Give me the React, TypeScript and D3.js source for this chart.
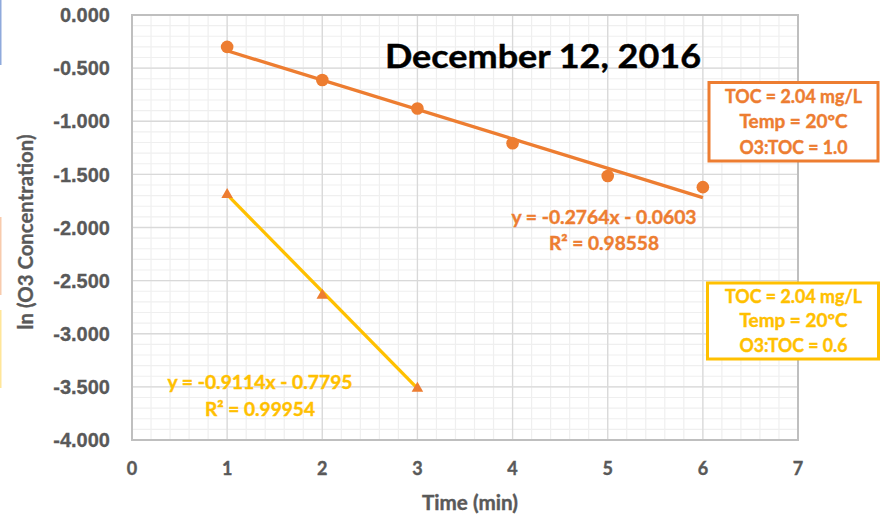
import React, { useEffect, useRef } from "react";
import * as d3 from "d3";

// O3:TOC = 1.0 series (circles)
const timeHigh = [1, 2, 3, 4, 5, 6];
const lnHigh = [-0.3, -0.612, -0.88, -1.207, -1.515, -1.62];
// O3:TOC = 0.6 series (triangles)
const timeLow = [1, 2, 3];
const lnLow = [-1.69, -2.64, -3.515];

// linear trendlines from the picture
const fitHigh = { slope: -0.2764, intercept: -0.0603 };
const fitLow = { slope: -0.9114, intercept: -0.7795 };

const xTicks = [0, 1, 2, 3, 4, 5, 6, 7];
const yTicks = [0, -0.5, -1, -1.5, -2, -2.5, -3, -3.5, -4];

const title = "December 12, 2016";
const eqHigh = ["y = -0.2764x - 0.0603", "R² = 0.98558"];
const eqLow = ["y = -0.9114x - 0.7795", "R² = 0.99954"];
const boxHigh = ["TOC = 2.04 mg/L", "Temp = 20ºC", "O3:TOC = 1.0"];
const boxLow = ["TOC = 2.04 mg/L", "Temp = 20ºC", "O3:TOC = 0.6"];

const ORANGE = "#ED7D31";
const YELLOW = "#FFC000";
const GRAY = "#595959";
const SANS = "Lato, 'Open Sans', sans-serif";

const W = 881;
const H = 516;
const margin = { top: 15, right: 83, bottom: 76, left: 132 };

const Chart: React.FC = () => {
  const svgRef = useRef<SVGSVGElement>(null);

  useEffect(() => {
    if (!svgRef.current) return;
    const root = d3.select(svgRef.current);
    root.selectAll("*").remove();

    const innerW = W - margin.left - margin.right;
    const innerH = H - margin.top - margin.bottom;

    const x = d3.scaleLinear().domain([0, 7]).range([0, innerW]);
    const y = d3.scaleLinear().domain([-4, 0]).range([innerH, 0]);

    root.append("rect").attr("width", W).attr("height", H).attr("fill", "#fff");

    // slivers of neighbouring shapes at the left edge
    root.append("rect").attr("x", 0).attr("y", 0).attr("width", 1.5).attr("height", 65).attr("fill", "#8FAADC");
    root.append("rect").attr("x", 0).attr("y", 217).attr("width", 1.5).attr("height", 78).attr("fill", "#F8CBAD");
    root.append("rect").attr("x", 0).attr("y", 310).attr("width", 1.5).attr("height", 78).attr("fill", "#FFE699");

    const g = root.append("g").attr("transform", `translate(${margin.left},${margin.top})`);

    // minor grid
    const minorX = d3.range(0, 7.001, 0.2);
    const minorY = d3.range(-4, 0.001, 0.1);
    g.append("g")
      .selectAll("line")
      .data(minorX)
      .enter()
      .append("line")
      .attr("x1", (d) => x(d))
      .attr("x2", (d) => x(d))
      .attr("y1", 0)
      .attr("y2", innerH)
      .attr("stroke", "#EFEFEF")
      .attr("stroke-width", 1.2);
    g.append("g")
      .selectAll("line")
      .data(minorY)
      .enter()
      .append("line")
      .attr("x1", 0)
      .attr("x2", innerW)
      .attr("y1", (d) => y(d))
      .attr("y2", (d) => y(d))
      .attr("stroke", "#EFEFEF")
      .attr("stroke-width", 1.2);

    // major grid
    g.append("g")
      .selectAll("line")
      .data(xTicks)
      .enter()
      .append("line")
      .attr("x1", (d) => x(d))
      .attr("x2", (d) => x(d))
      .attr("y1", 0)
      .attr("y2", innerH)
      .attr("stroke", "#D9D9D9")
      .attr("stroke-width", 1.3);
    g.append("g")
      .selectAll("line")
      .data(yTicks)
      .enter()
      .append("line")
      .attr("x1", 0)
      .attr("x2", innerW)
      .attr("y1", (d) => y(d))
      .attr("y2", (d) => y(d))
      .attr("stroke", "#D9D9D9")
      .attr("stroke-width", 1.3);

    // plot frame
    g.append("rect")
      .attr("width", innerW)
      .attr("height", innerH)
      .attr("fill", "none")
      .attr("stroke", "#BFBFBF")
      .attr("stroke-width", 2);

    // y tick labels
    g.append("g")
      .selectAll("text")
      .data(yTicks)
      .enter()
      .append("text")
      .attr("x", -22)
      .attr("y", (d) => y(d))
      .attr("dy", "0.36em")
      .attr("text-anchor", "end")
      .attr("font-family", "'Liberation Sans', Arial, sans-serif")
      .attr("font-weight", "bold")
      .attr("font-size", 20)
      .attr("fill", GRAY)
      .attr("stroke", GRAY)
      .attr("stroke-width", 0.3)
      .text((d) => d3.format(".3f")(d).replace("−", "-"));

    // x tick labels
    g.append("g")
      .selectAll("text")
      .data(xTicks)
      .enter()
      .append("text")
      .attr("x", (d) => x(d))
      .attr("y", innerH + 35)
      .attr("text-anchor", "middle")
      .attr("font-family", SANS)
      .attr("font-weight", "bold")
      .attr("font-size", 18)
      .attr("fill", GRAY)
      .attr("stroke", GRAY)
      .attr("stroke-width", 0.4)
      .text((d) => d);

    // axis titles
    root.append("text")
      .attr("x", 470)
      .attr("y", 510)
      .attr("text-anchor", "middle")
      .attr("font-family", SANS)
      .attr("font-weight", "bold")
      .attr("font-size", 21)
      .attr("textLength", 96)
      .attr("lengthAdjust", "spacingAndGlyphs")
      .attr("fill", GRAY)
      .attr("stroke", GRAY)
      .attr("stroke-width", 0.4)
      .text("Time (min)");
    root.append("text")
      .attr("transform", "rotate(-90)")
      .attr("x", -232)
      .attr("y", 33)
      .attr("text-anchor", "middle")
      .attr("font-family", SANS)
      .attr("font-weight", "bold")
      .attr("font-size", 20)
      .attr("textLength", 195)
      .attr("lengthAdjust", "spacingAndGlyphs")
      .attr("fill", GRAY)
      .attr("stroke", GRAY)
      .attr("stroke-width", 0.3)
      .text("ln (O3 Concentration)");

    // trendlines
    const drawFit = (fit: { slope: number; intercept: number }, xs: number[], color: string) => {
      const ext = d3.extent(xs) as [number, number];
      g.append("line")
        .attr("x1", x(ext[0]))
        .attr("y1", y(fit.slope * ext[0] + fit.intercept))
        .attr("x2", x(ext[1]))
        .attr("y2", y(fit.slope * ext[1] + fit.intercept))
        .attr("stroke", color)
        .attr("stroke-width", 3.3);
    };
    drawFit(fitHigh, timeHigh, ORANGE);
    drawFit(fitLow, timeLow, YELLOW);

    // markers
    g.append("g")
      .selectAll("circle")
      .data(timeHigh)
      .enter()
      .append("circle")
      .attr("cx", (d) => x(d))
      .attr("cy", (_, i) => y(lnHigh[i]))
      .attr("r", 6.3)
      .attr("fill", ORANGE);

    const tri = d3.symbol().type(d3.symbolTriangle).size(58);
    g.append("g")
      .selectAll("path")
      .data(timeLow)
      .enter()
      .append("path")
      .attr("d", tri)
      .attr("transform", (d, i) => `translate(${x(d)},${y(lnLow[i])})`)
      .attr("fill", ORANGE);

    // title
    root.append("text")
      .attr("x", 543)
      .attr("y", 68)
      .attr("text-anchor", "middle")
      .attr("font-family", SANS)
      .attr("font-weight", "bold")
      .attr("font-size", 32)
      .attr("textLength", 316)
      .attr("lengthAdjust", "spacingAndGlyphs")
      .attr("fill", "#000")
      .attr("stroke", "#000")
      .attr("stroke-width", 0.4)
      .text(title);

    // equations and box text
    const drawLines = (lines: string[], cx: number, y0: number, step: number, color: string, size: number, lens: number[]) => {
      lines.forEach((t, i) => {
        root.append("text")
          .attr("x", cx)
          .attr("y", y0 + i * step)
          .attr("text-anchor", "middle")
          .attr("font-family", SANS)
          .attr("font-weight", "bold")
          .attr("font-size", size)
          .attr("textLength", lens[i])
          .attr("lengthAdjust", "spacingAndGlyphs")
          .attr("fill", color)
          .attr("stroke", color)
          .attr("stroke-width", 0.4)
          .text(t);
      });
    };
    drawLines(eqHigh, 604, 224, 26, ORANGE, 18.5, [185, 110]);
    drawLines(eqLow, 260, 389, 26.5, YELLOW, 18.5, [185, 110]);

    // info boxes
    root.append("rect")
      .attr("x", 709)
      .attr("y", 82.5)
      .attr("width", 169)
      .attr("height", 78.5)
      .attr("fill", "#fff")
      .attr("stroke", ORANGE)
      .attr("stroke-width", 3);
    drawLines(boxHigh, 793.5, 102.5, 25.5, ORANGE, 18, [137, 108, 108]);

    root.append("rect")
      .attr("x", 707.5)
      .attr("y", 283)
      .attr("width", 171)
      .attr("height", 76)
      .attr("fill", "#fff")
      .attr("stroke", YELLOW)
      .attr("stroke-width", 3);
    drawLines(boxLow, 793.5, 302.5, 24.5, YELLOW, 18, [137, 108, 108]);
  }, []);

  return <svg ref={svgRef} width={W} height={H} style={{ position: "absolute", left: 0, top: 0, display: "block" }} />;
};

export default function App() {
  return <Chart />;
}
